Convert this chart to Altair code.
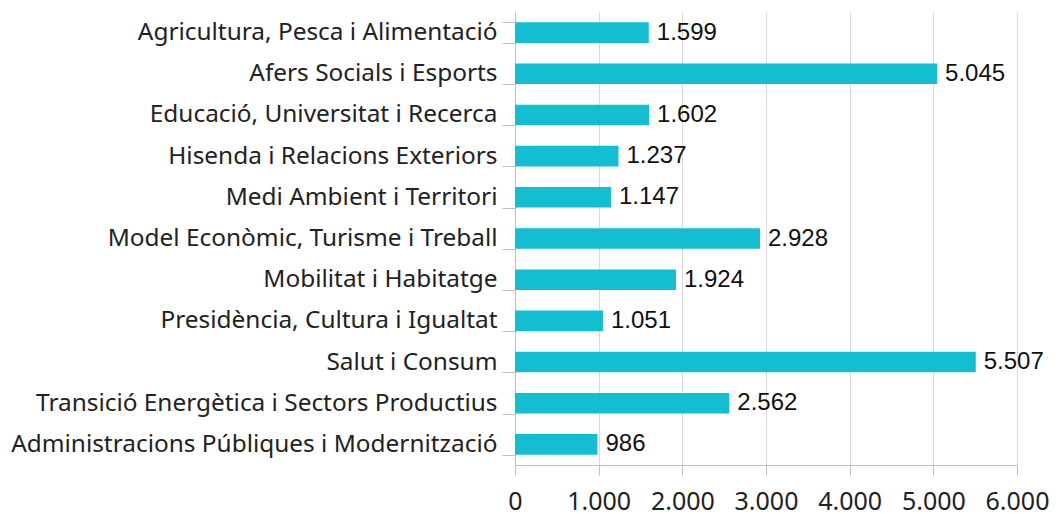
import altair as alt
import pandas as pd

categories = [
    "Agricultura, Pesca i Alimentació",
    "Afers Socials i Esports",
    "Educació, Universitat i Recerca",
    "Hisenda i Relacions Exteriors",
    "Medi Ambient i Territori",
    "Model Econòmic, Turisme i Treball",
    "Mobilitat i Habitatge",
    "Presidència, Cultura i Igualtat",
    "Salut i Consum",
    "Transició Energètica i Sectors Productius",
    "Administracions Públiques i Modernització",
]
values = [1599, 5045, 1602, 1237, 1147, 2928, 1924, 1051, 5507, 2562, 986]
x_ticks = [0, 1000, 2000, 3000, 4000, 5000, 6000]

df = pd.DataFrame({"cat": categories, "val": values})

base = alt.Chart(df).encode(
    y=alt.Y("cat:N", sort=categories, title=None,
            scale=alt.Scale(paddingInner=0.5, paddingOuter=0.25),
            axis=alt.Axis(labelFont="Noto Sans", labelFontSize=24.4, labelColor="#222222",
                          tickBand="extent", tickSize=13, tickColor="#bfbfbf",
                          domainColor="#bfbfbf", labelPadding=5, grid=False,
                          labelLimit=700)),
)

bars = base.mark_bar(color="#13BED1").encode(
    x=alt.X("val:Q", title=None,
            scale=alt.Scale(domain=[0, 6000], nice=False),
            axis=alt.Axis(values=x_ticks, labelOverlap=False, labelFlush=False,
                          labelExpr="replace(format(datum.value, ','), ',', '.')",
                          labelFont="Noto Sans", labelFontSize=25, labelColor="#222222",
                          tickSize=10, tickColor="#bfbfbf", domainColor="#bfbfbf",
                          gridColor="#d9d9d9", labelPadding=14)),
)

text = base.transform_calculate(
    lab="replace(format(datum.val, ','), ',', '.')"
).mark_text(align="left", baseline="middle", dx=8, font="Liberation Sans",
            fontSize=24, color="#111111").encode(
    x="val:Q",
    text="lab:N",
)

chart = (bars + text).properties(
    width=502, height=453,
    padding={"left": 2, "top": -9, "right": 0, "bottom": 0},
).configure_view(stroke=None)

chart.save("out.html", embed_options={"renderer": "svg", "actions": False})
